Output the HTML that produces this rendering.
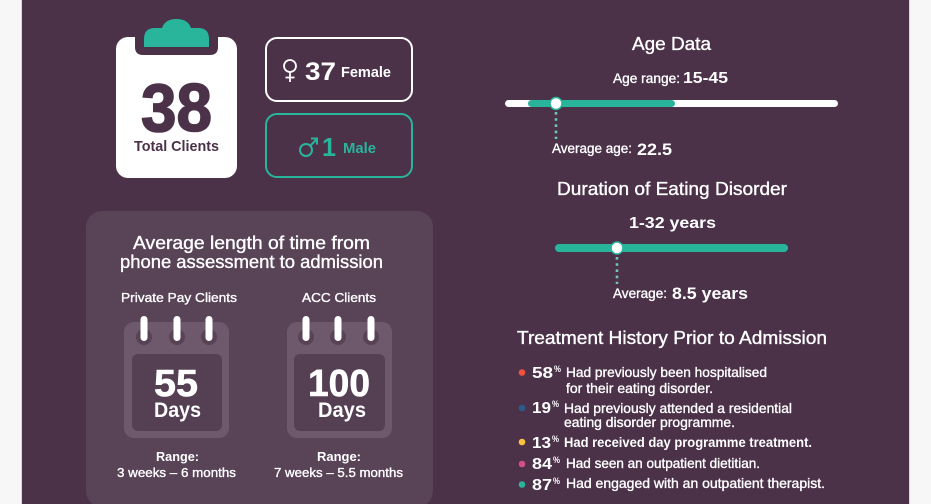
<!DOCTYPE html>
<html>
<head>
<meta charset="utf-8">
<style>
html,body{margin:0;padding:0;background:#f7f7f7;}
svg{display:block;}
text{font-family:"Liberation Sans",Arial,sans-serif;}
.m{stroke:#ffffff;stroke-width:0.35;}
</style>
</head>
<body>
<svg width="931" height="504" viewBox="0 0 931 504" xmlns="http://www.w3.org/2000/svg">
  <!-- background -->
  <rect width="931" height="504" fill="#f7f7f7"/>
  <rect x="21" y="0" width="889" height="504" fill="#d9d6d9"/>
  <rect x="22" y="0" width="887" height="504" fill="#4b3249"/>

  <!-- Clipboard -->
  <rect x="116" y="37" width="121" height="141" rx="12" fill="#ffffff"/>
  <path d="M135,37 H218 V47 Q218,55 210,55 H143 Q135,55 135,47 Z" fill="#4b3249"/>
  <path d="M144,47 L144,39 Q144,28 155,28 L162,28 Q165,19 176.5,19 Q188,19 191,28 L198,28 Q209,28 209,39 L209,47 Z" fill="#28b59c"/>
  <text x="141" y="131" font-size="68" font-weight="bold" fill="#4b3249" stroke="#4b3249" stroke-width="1.6" textLength="71" lengthAdjust="spacingAndGlyphs">38</text>
  <text x="134" y="151" font-size="15" font-weight="bold" fill="#4b3249" textLength="85" lengthAdjust="spacingAndGlyphs">Total Clients</text>

  <!-- Female box -->
  <rect x="266" y="38" width="146" height="63" rx="11" fill="none" stroke="#ffffff" stroke-width="2"/>
  <g stroke="#ffffff" stroke-width="1.8" fill="none">
    <circle cx="290" cy="66" r="6"/>
    <line x1="290" y1="72" x2="290" y2="82"/>
    <line x1="285.5" y1="77.5" x2="294.5" y2="77.5"/>
  </g>
  <text x="305" y="80" font-size="25" font-weight="bold" fill="#ffffff" textLength="31" lengthAdjust="spacingAndGlyphs">37</text>
  <text x="341" y="77" font-size="15" font-weight="bold" fill="#ffffff" textLength="50" lengthAdjust="spacingAndGlyphs">Female</text>

  <!-- Male box -->
  <rect x="266" y="114" width="146" height="63" rx="11" fill="none" stroke="#28b59c" stroke-width="2"/>
  <g stroke="#28b59c" stroke-width="2" fill="none">
    <circle cx="306" cy="150" r="6"/>
    <line x1="310.5" y1="145.5" x2="317" y2="139"/>
    <polyline points="311,138.5 317,138.5 317,144.5"/>
  </g>
  <text x="322" y="156" font-size="26" font-weight="bold" fill="#28b59c" textLength="14" lengthAdjust="spacingAndGlyphs">1</text>
  <text x="343" y="153" font-size="15" font-weight="bold" fill="#28b59c" textLength="33" lengthAdjust="spacingAndGlyphs">Male</text>

  <!-- Age Data -->
  <text class="m" x="632" y="50" font-size="18" fill="#ffffff" textLength="79" lengthAdjust="spacingAndGlyphs">Age Data</text>
  <text class="m" x="613" y="83" font-size="14" fill="#ffffff" textLength="67" lengthAdjust="spacingAndGlyphs">Age range:</text>
  <text x="683" y="83" font-size="16" font-weight="bold" fill="#ffffff" textLength="45" lengthAdjust="spacingAndGlyphs">15-45</text>
  <rect x="505" y="100" width="333" height="7" rx="3.5" fill="#ffffff"/>
  <rect x="528" y="100" width="147" height="7" rx="3.5" fill="#28b59c"/>
  <line x1="556" y1="112" x2="556" y2="139" stroke="#6fc7b6" stroke-width="2.6" stroke-dasharray="2.6 3.6"/>
  <circle cx="556" cy="103.5" r="6" fill="#ffffff" stroke="#28b59c" stroke-width="1.5"/>
  <text class="m" x="552" y="153" font-size="14" fill="#ffffff" textLength="80" lengthAdjust="spacingAndGlyphs">Average age:</text>
  <text x="637" y="155" font-size="17" font-weight="bold" fill="#ffffff" textLength="35" lengthAdjust="spacingAndGlyphs">22.5</text>

  <!-- Duration -->
  <text class="m" x="557" y="195" font-size="18" fill="#ffffff" textLength="230" lengthAdjust="spacingAndGlyphs">Duration of Eating Disorder</text>
  <text x="629" y="228" font-size="16" font-weight="bold" fill="#ffffff" textLength="87" lengthAdjust="spacingAndGlyphs">1-32 years</text>
  <rect x="555" y="244" width="233" height="8" rx="4" fill="#28b59c"/>
  <line x1="617" y1="257" x2="617" y2="284" stroke="#6fc7b6" stroke-width="2.6" stroke-dasharray="2.6 3.6"/>
  <circle cx="617" cy="248" r="6" fill="#ffffff" stroke="#28b59c" stroke-width="1.5"/>
  <text class="m" x="613" y="298" font-size="14" fill="#ffffff" textLength="54" lengthAdjust="spacingAndGlyphs">Average:</text>
  <text x="672" y="299" font-size="17" font-weight="bold" fill="#ffffff" textLength="76" lengthAdjust="spacingAndGlyphs">8.5 years</text>

  <!-- Treatment History -->
  <text class="m" x="517" y="344" font-size="18" fill="#ffffff" textLength="310" lengthAdjust="spacingAndGlyphs">Treatment History Prior to Admission</text>

  <circle cx="522" cy="372.5" r="3.3" fill="#f0513f"/>
  <text x="532" y="378" font-size="16" font-weight="bold" fill="#ffffff" textLength="21" lengthAdjust="spacingAndGlyphs">58</text>
  <text x="554" y="372" font-size="9" font-weight="bold" fill="#ffffff" textLength="7" lengthAdjust="spacingAndGlyphs">%</text>
  <text class="m" x="566" y="377" font-size="14" fill="#ffffff" textLength="201" lengthAdjust="spacingAndGlyphs">Had previously been hospitalised</text>
  <text class="m" x="566" y="393" font-size="14" fill="#ffffff" textLength="147" lengthAdjust="spacingAndGlyphs">for their eating disorder.</text>

  <circle cx="522" cy="408" r="3.3" fill="#2a5d8c"/>
  <text x="532" y="413" font-size="16" font-weight="bold" fill="#ffffff" textLength="19" lengthAdjust="spacingAndGlyphs">19</text>
  <text x="552" y="407" font-size="9" font-weight="bold" fill="#ffffff" textLength="7" lengthAdjust="spacingAndGlyphs">%</text>
  <text class="m" x="564" y="413" font-size="14" fill="#ffffff" textLength="228" lengthAdjust="spacingAndGlyphs">Had previously attended a residential</text>
  <text class="m" x="564" y="427" font-size="14" fill="#ffffff" textLength="171" lengthAdjust="spacingAndGlyphs">eating disorder programme.</text>

  <circle cx="522" cy="442" r="3.3" fill="#f9c23c"/>
  <text x="532" y="448" font-size="16" font-weight="bold" fill="#ffffff" textLength="19" lengthAdjust="spacingAndGlyphs">13</text>
  <text x="552" y="442" font-size="9" font-weight="bold" fill="#ffffff" textLength="7" lengthAdjust="spacingAndGlyphs">%</text>
  <text x="564" y="447" font-size="14" font-weight="bold" fill="#ffffff" textLength="248" lengthAdjust="spacingAndGlyphs">Had received day programme treatment.</text>

  <circle cx="522" cy="464" r="3.3" fill="#d24e83"/>
  <text x="532" y="469" font-size="16" font-weight="bold" fill="#ffffff" textLength="20" lengthAdjust="spacingAndGlyphs">84</text>
  <text x="553" y="463" font-size="9" font-weight="bold" fill="#ffffff" textLength="7" lengthAdjust="spacingAndGlyphs">%</text>
  <text class="m" x="566" y="468" font-size="14" fill="#ffffff" textLength="194" lengthAdjust="spacingAndGlyphs">Had seen an outpatient dietitian.</text>

  <circle cx="522" cy="484.5" r="3.3" fill="#28b59c"/>
  <text x="532" y="490" font-size="16" font-weight="bold" fill="#ffffff" textLength="20" lengthAdjust="spacingAndGlyphs">87</text>
  <text x="553" y="484" font-size="9" font-weight="bold" fill="#ffffff" textLength="7" lengthAdjust="spacingAndGlyphs">%</text>
  <text class="m" x="566" y="488" font-size="14" fill="#ffffff" textLength="259" lengthAdjust="spacingAndGlyphs">Had engaged with an outpatient therapist.</text>

  <!-- Left lower card -->
  <rect x="86" y="211" width="347" height="296" rx="16" fill="#584357"/>
  <text class="m" x="133" y="249" font-size="18" fill="#ffffff" textLength="237" lengthAdjust="spacingAndGlyphs">Average length of time from</text>
  <text class="m" x="120" y="268" font-size="18" fill="#ffffff" textLength="263" lengthAdjust="spacingAndGlyphs">phone assessment to admission</text>
  <text class="m" x="121" y="302" font-size="13" fill="#ffffff" textLength="116" lengthAdjust="spacingAndGlyphs">Private Pay Clients</text>
  <text class="m" x="302" y="302" font-size="13" fill="#ffffff" textLength="74" lengthAdjust="spacingAndGlyphs">ACC Clients</text>

  <!-- Calendar 1 -->
  <rect x="124" y="322" width="105" height="116" rx="10" fill="#6e596c"/>
  <rect x="132" y="354" width="90" height="77" rx="6" fill="#543f53"/>
  <circle cx="144" cy="337" r="8" fill="#574256"/>
  <circle cx="177" cy="337" r="8" fill="#574256"/>
  <circle cx="209" cy="337" r="8" fill="#574256"/>
  <rect x="140.5" y="316" width="7" height="25" rx="3.5" fill="#ffffff"/>
  <rect x="173.5" y="316" width="7" height="25" rx="3.5" fill="#ffffff"/>
  <rect x="205.5" y="316" width="7" height="25" rx="3.5" fill="#ffffff"/>
  <text x="154" y="396" font-size="38" font-weight="bold" fill="#ffffff" stroke="#ffffff" stroke-width="0.6" textLength="44" lengthAdjust="spacingAndGlyphs">55</text>
  <text x="154" y="417" font-size="21" font-weight="bold" fill="#ffffff" textLength="47" lengthAdjust="spacingAndGlyphs">Days</text>

  <!-- Calendar 2 -->
  <rect x="287" y="322" width="105" height="116" rx="10" fill="#6e596c"/>
  <rect x="294" y="354" width="91" height="77" rx="6" fill="#543f53"/>
  <circle cx="306" cy="337" r="8" fill="#574256"/>
  <circle cx="338" cy="337" r="8" fill="#574256"/>
  <circle cx="371" cy="337" r="8" fill="#574256"/>
  <rect x="302.5" y="316" width="7" height="25" rx="3.5" fill="#ffffff"/>
  <rect x="334.5" y="316" width="7" height="25" rx="3.5" fill="#ffffff"/>
  <rect x="367.5" y="316" width="7" height="25" rx="3.5" fill="#ffffff"/>
  <text x="308" y="396" font-size="38" font-weight="bold" fill="#ffffff" stroke="#ffffff" stroke-width="0.6" textLength="62" lengthAdjust="spacingAndGlyphs">100</text>
  <text x="318" y="417" font-size="21" font-weight="bold" fill="#ffffff" textLength="48" lengthAdjust="spacingAndGlyphs">Days</text>

  <!-- Ranges -->
  <text x="156" y="461" font-size="13" font-weight="bold" fill="#ffffff" textLength="43" lengthAdjust="spacingAndGlyphs">Range:</text>
  <text class="m" x="117" y="477" font-size="13" fill="#ffffff" textLength="119" lengthAdjust="spacingAndGlyphs">3 weeks – 6 months</text>
  <text x="317" y="461" font-size="13" font-weight="bold" fill="#ffffff" textLength="44" lengthAdjust="spacingAndGlyphs">Range:</text>
  <text class="m" x="274" y="477" font-size="13" fill="#ffffff" textLength="129" lengthAdjust="spacingAndGlyphs">7 weeks – 5.5 months</text>
</svg>
</body>
</html>
